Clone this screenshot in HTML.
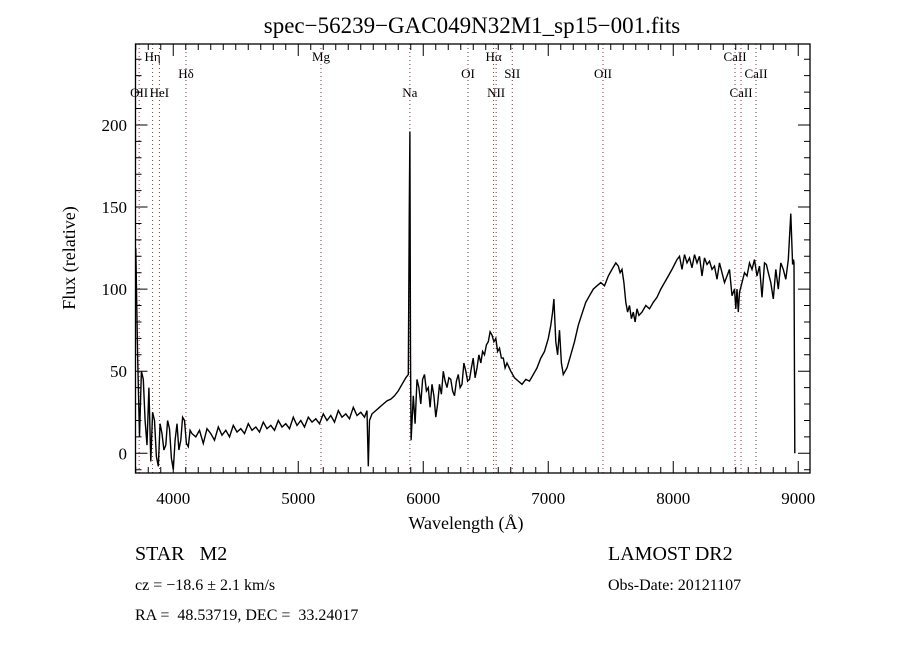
<!DOCTYPE html>
<html><head><meta charset="utf-8"><style>
body{margin:0;background:#fff;}
svg{display:block;}
text{font-family:"Liberation Serif",serif;fill:#000;}
</style></head><body>
<svg id="chart" width="900" height="650" xmlns="http://www.w3.org/2000/svg">
<rect width="900" height="650" fill="#fff"/>
<text x="472" y="33" font-size="23" text-anchor="middle">spec−56239−GAC049N32M1_sp15−001.fits</text>
<text x="466" y="529" font-size="18" text-anchor="middle">Wavelength (Å)</text>
<text transform="translate(75,258) rotate(-90)" font-size="18" text-anchor="middle">Flux (relative)</text>
<text x="135" y="560" font-size="20" xml:space="preserve">STAR   M2</text>
<text x="135" y="590" font-size="16">cz = −18.6 ± 2.1 km/s</text>
<text x="135" y="620" font-size="16" xml:space="preserve">RA =  48.53719, DEC =  33.24017</text>
<text x="608" y="560" font-size="20">LAMOST DR2</text>
<text x="608" y="590" font-size="16">Obs-Date: 20121107</text>
<g id="g-lines"></g>
<g id="g-axes"></g>
<g id="g-data"></g>
</svg>
<script>
const wl=[3700,3715,3730,3745,3760,3775,3790,3805,3820,3835,3850,3865,3880,3895,3910,3925,3940,3955,3970,3985,4000,4015,4030,4045,4060,4075,4090,4105,4120,4135,4150,4180,4210,4240,4270,4300,4330,4360,4390,4420,4450,4480,4510,4540,4570,4600,4630,4660,4690,4720,4750,4780,4810,4840,4870,4900,4930,4960,4990,5020,5050,5080,5110,5140,5170,5200,5230,5260,5290,5320,5350,5380,5410,5440,5470,5500,5530,5550,5560,5570,5590,5620,5650,5680,5710,5740,5770,5800,5830,5860,5880,5888,5893,5898,5903,5920,5935,5950,5965,5980,5995,6010,6025,6040,6055,6070,6085,6100,6115,6130,6145,6160,6175,6190,6205,6220,6235,6250,6265,6280,6295,6310,6325,6340,6355,6370,6385,6400,6415,6430,6445,6460,6475,6490,6505,6520,6535,6550,6565,6580,6595,6610,6625,6640,6655,6670,6700,6730,6760,6790,6820,6850,6880,6910,6940,6970,7000,7020,7035,7045,7060,7075,7090,7105,7120,7150,7180,7210,7240,7270,7300,7330,7360,7390,7420,7450,7480,7510,7540,7560,7575,7590,7605,7620,7635,7650,7665,7680,7695,7710,7725,7750,7780,7810,7840,7870,7900,7930,7960,7990,8010,8030,8050,8070,8090,8110,8130,8150,8170,8190,8210,8230,8250,8270,8290,8310,8330,8350,8370,8390,8410,8430,8450,8470,8490,8500,8510,8520,8530,8550,8570,8590,8610,8630,8650,8670,8690,8710,8730,8745,8760,8780,8800,8820,8840,8860,8880,8900,8920,8940,8955,8962,8966,8972,8985,8994,9000];
const flux=[125,60,10,50,45,20,5,40,-5,25,20,-2,-8,18,12,2,5,20,15,-3,-10,8,18,2,8,22,20,6,4,14,12,10,14,6,15,12,8,16,11,14,10,17,13,15,12,18,14,16,13,19,15,17,14,20,16,18,15,22,17,20,16,22,19,21,18,24,20,23,19,26,22,24,21,28,23,25,22,26,-8,20,24,26,28,30,32,33,35,38,42,46,48,150,196,60,8,35,18,45,40,30,45,48,38,40,28,42,35,22,30,42,36,50,44,40,46,45,38,35,44,48,40,42,55,50,44,45,52,58,46,52,60,55,62,60,66,68,74,72,68,70,62,64,58,58,52,55,50,46,44,42,45,44,48,52,58,62,70,78,86,94,68,60,75,55,48,52,60,68,78,85,92,96,100,102,104,102,108,112,116,114,110,112,104,92,86,90,82,86,80,88,84,86,90,88,92,95,100,104,108,112,115,118,120,112,121,116,119,113,121,116,120,108,119,115,117,112,114,106,116,110,104,108,112,96,100,88,100,86,98,104,110,108,116,112,118,108,114,95,116,115,110,104,94,112,100,116,112,106,118,146,115,118,116,0];
const lineWl=[3727,3835,3889,4102,5182,5893,6358,6563,6583,6712,7438,8494,8542,8662];
const lineLbl=["OII","Hη","HeI","Hδ","Mg","Na","OI","Hα","NII","SII","OII","CaII","CaII","CaII"];
const lineRow=[2,0,2,1,0,2,1,0,2,1,1,0,2,1];
const xTicks=[4000,5000,6000,7000,8000,9000];
const yTicks=[0,50,100,150,200];
const X0=135.5,X1=810,Y0=44,Y1=473,XMIN=3698,XMAX=9094,YMIN=-12,YMAX=249.3;
const sx=v=>X0+(v-XMIN)/(XMAX-XMIN)*(X1-X0);
const sy=v=>Y1-(v-YMIN)/(YMAX-YMIN)*(Y1-Y0);
const NS="http://www.w3.org/2000/svg";
function mk(tag,at,parent){const e=document.createElementNS(NS,tag);for(const k in at)e.setAttribute(k,at[k]);parent.appendChild(e);return e;}
const gL=document.getElementById('g-lines'),gA=document.getElementById('g-axes'),gD=document.getElementById('g-data');
const rowY=[61,78,97];
lineWl.forEach((w,i)=>{
  const l=mk('line',{x1:sx(w),x2:sx(w),y1:Y0,y2:Y1,stroke:'#8b1a1a','stroke-width':0.9,'stroke-dasharray':'1,3'},gL);
  
  
  const t=mk('text',{x:sx(w),y:rowY[lineRow[i]],'font-size':13,'text-anchor':'middle'},gL);
  t.textContent=lineLbl[i];
  
  
});
const fr=mk('rect',{x:X0,y:Y0,width:X1-X0,height:Y1-Y0,fill:'none',stroke:'#000','stroke-width':1.3},gA);


let tp='';
for(let v=3700;v<=9000;v+=100){const x=sx(v),L=(v%1000===0)?12:6;tp+=`M${x},${Y1}v${-L}M${x},${Y0}v${L}`;}
for(let v=-10;v<=240;v+=10){const y=sy(v),L=(v%50===0)?12:6;tp+=`M${X0},${y}h${L}M${X1},${y}h${-L}`;}
const tk=mk('path',{d:tp,stroke:'#000','stroke-width':1,fill:'none'},gA);


xTicks.forEach(v=>{const t=mk('text',{x:sx(v),y:504,'font-size':17,'text-anchor':'middle'},gA);t.textContent=v;
  
  });
yTicks.forEach(v=>{const t=mk('text',{x:127,y:sy(v)+6,'font-size':17,'text-anchor':'end'},gA);t.textContent=v;
  
  });
const pts=wl.map((w,i)=>sx(w).toFixed(1)+','+sy(flux[i]).toFixed(1)).join(' ');
const pl=mk('polyline',{points:pts,fill:'none',stroke:'#000','stroke-width':1.4},gD);


</script>
</body></html>
